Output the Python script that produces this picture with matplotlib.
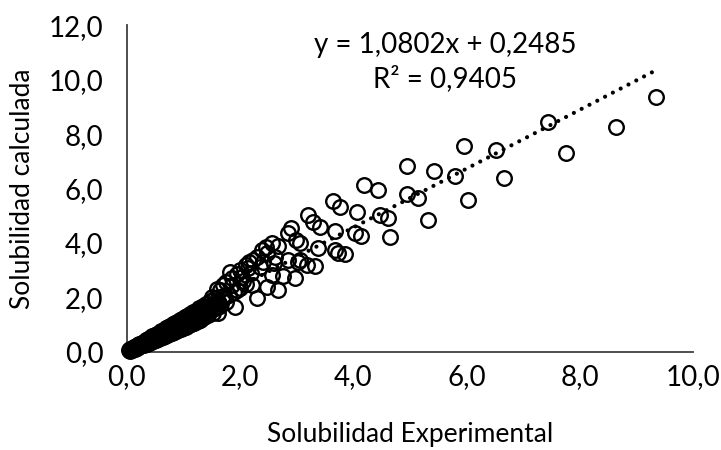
import matplotlib.pyplot as plt

# Solubilidad experimental (x) y calculada (y)
exp_x = [
    # zona densa cerca del origen
    0.04, 0.05, 0.06, 0.08, 0.09, 0.10, 0.11, 0.13, 0.14, 0.16, 0.17, 0.19,
    0.20, 0.22, 0.24, 0.26, 0.27, 0.30, 0.31, 0.33, 0.35, 0.37, 0.39, 0.41,
    0.43, 0.45, 0.47, 0.49, 0.51, 0.53, 0.55, 0.57, 0.59, 0.61, 0.63, 0.65,
    0.67, 0.69, 0.71, 0.73, 0.75, 0.77, 0.79, 0.81, 0.83, 0.85, 0.87, 0.89,
    0.91, 0.93, 0.95, 0.97, 0.99, 1.02, 1.04, 1.07, 1.09, 1.12, 1.14, 1.17,
    1.19, 1.22, 1.25, 1.28, 1.31, 1.34, 1.37, 1.40, 1.44, 1.47, 1.52, 1.56,
    0.15, 0.25, 0.35, 0.45, 0.55, 0.65, 0.75, 0.85, 0.95, 1.05, 1.15, 1.25,
    1.35, 1.45,
    0.12, 0.18, 0.28, 0.38, 0.48, 0.58, 0.68, 0.78, 0.88, 0.98, 1.08, 1.18,
    1.28, 1.38, 1.48, 1.20, 1.30, 1.42, 1.55, 1.10, 1.00,
    0.32, 0.42, 0.52, 0.62, 0.72, 0.82, 0.92, 1.02, 1.12, 1.22, 1.32, 1.42,
    1.52, 1.62, 0.40, 0.60, 0.80, 1.00, 1.20, 1.40, 1.60, 1.70, 1.35, 1.15,
    # zona intermedia
    1.29, 1.61, 1.91, 2.30, 1.94, 2.21, 2.47, 2.67, 2.03, 2.56, 2.76, 2.97,
    1.82, 2.14, 2.35, 2.23, 2.84, 3.02, 2.39, 2.47, 2.61, 2.56, 2.67, 2.90,
    2.84, 2.99, 1.64, 1.50, 1.60, 1.70, 1.75, 1.85, 1.95, 2.00, 2.10, 2.15,
    2.30, 2.45, 1.60, 1.70, 1.80, 1.90, 2.00, 2.10, 1.65, 1.75, 1.55, 1.45,
    1.85, 2.05, 2.20, 2.40, 2.60,
    # zona dispersa
    3.06, 3.37, 3.67, 3.73, 3.85, 3.06, 3.18, 3.32, 3.20, 3.29, 3.42, 3.67,
    4.03, 4.13, 4.65, 3.64, 3.76, 4.06, 4.47, 4.61, 5.32, 4.19, 4.43, 4.95,
    5.14, 6.02, 4.95, 5.42, 5.80, 5.95, 6.52, 6.66, 7.44, 7.76, 8.64, 9.35,
]
calc_y = [
    0.06, 0.10, 0.05, 0.12, 0.08, 0.15, 0.10, 0.18, 0.12, 0.21, 0.15, 0.25,
    0.17, 0.28, 0.21, 0.33, 0.24, 0.38, 0.27, 0.42, 0.30, 0.47, 0.34, 0.52,
    0.37, 0.57, 0.40, 0.61, 0.44, 0.66, 0.48, 0.71, 0.51, 0.76, 0.55, 0.81,
    0.58, 0.86, 0.62, 0.91, 0.65, 0.96, 0.69, 1.01, 0.72, 1.06, 0.76, 1.11,
    0.80, 1.16, 0.84, 1.21, 0.88, 1.27, 0.92, 1.33, 0.97, 1.40, 1.02, 1.46,
    1.07, 1.52, 1.13, 1.60, 1.20, 1.68, 1.27, 1.76, 1.35, 1.86, 1.44, 1.97,
    0.17, 0.28, 0.39, 0.50, 0.60, 0.72, 0.82, 0.93, 1.03, 1.14, 1.25, 1.37,
    1.48, 1.60,
    0.16, 0.20, 0.33, 0.44, 0.56, 0.66, 0.78, 0.88, 1.00, 1.10, 1.22, 1.33,
    1.45, 1.56, 1.70, 1.30, 1.42, 1.50, 1.62, 1.20, 1.05,
    0.30, 0.43, 0.50, 0.64, 0.70, 0.84, 0.92, 1.06, 1.12, 1.28, 1.35, 1.50,
    1.58, 1.80, 0.48, 0.66, 0.92, 1.18, 1.38, 1.62, 1.66, 2.05, 1.55, 1.33,
    1.17, 1.43, 1.65, 1.98, 2.28, 2.46, 2.39, 2.28, 2.75, 2.83, 2.79, 2.72,
    2.94, 3.08, 3.12, 3.38, 3.38, 3.30, 3.74, 3.63, 3.49, 4.00, 3.89, 4.55,
    4.37, 4.11, 2.28, 2.02, 2.30, 2.45, 2.55, 2.70, 2.85, 3.00, 3.20, 3.30,
    3.50, 3.85, 1.90, 2.00, 2.10, 2.20, 2.35, 2.50, 1.70, 1.85, 1.75, 1.55,
    2.45, 2.60, 2.90, 3.30, 3.25,
    4.00, 3.82, 3.74, 3.63, 3.60, 3.38, 3.19, 3.16, 5.03, 4.77, 4.59, 4.44,
    4.37, 4.26, 4.22, 5.54, 5.32, 5.14, 5.03, 4.92, 4.84, 6.13, 5.94, 5.80,
    5.65, 5.58, 6.83, 6.64, 6.46, 7.56, 7.41, 6.39, 8.44, 7.30, 8.26, 9.36,
]

# Linea de tendencia (Excel)
pendiente = 1.0802
intercepto = 0.2485
r2 = 0.9405

x_ticks = [0, 2, 4, 6, 8, 10]
y_ticks = [0, 2, 4, 6, 8, 10, 12]

plt.rcParams['font.family'] = ['Lato', 'DejaVu Sans']

fig = plt.figure(figsize=(7.21, 4.5), dpi=100)
ax = fig.add_axes([0.176, 0.218, 0.785, 0.726])

ax.plot(exp_x, calc_y, 'o', markersize=10.5, markerfacecolor='none',
        markeredgecolor='black', markeredgewidth=1.7, clip_on=False, zorder=3)

x0, x1 = min(exp_x), max(exp_x)
ax.plot([x0, x1], [pendiente * x0 + intercepto, pendiente * x1 + intercepto],
        color='black', linewidth=3.0, linestyle=(0, (0.01, 2.1)),
        dash_capstyle='round', zorder=4)

ax.text(0.562, 0.939, f"y = {pendiente:.4f}x + {intercepto:.4f}".replace('.', ','),
        transform=ax.transAxes, ha='center', va='center', fontsize=20)
ax.text(0.562, 0.838, f"R² = {r2:.4f}".replace('.', ','),
        transform=ax.transAxes, ha='center', va='center', fontsize=20)

ax.set_xlim(0, 10)
ax.set_ylim(0, 12)
ax.set_xticks(x_ticks)
ax.set_yticks(y_ticks)
ax.set_xticklabels([f"{v:.1f}".replace('.', ',') for v in x_ticks])
ax.set_yticklabels([f"{v:.1f}".replace('.', ',') for v in y_ticks])
ax.tick_params(length=0, labelsize=20)
ax.tick_params(axis='x', pad=9)
ax.tick_params(axis='y', pad=17)

for lado in ['top', 'right']:
    ax.spines[lado].set_visible(False)
for lado in ['left', 'bottom']:
    ax.spines[lado].set_color('#404040')
    ax.spines[lado].set_linewidth(1.3)

ax.set_xlabel("Solubilidad Experimental", fontsize=19, labelpad=23)
ax.set_ylabel("Solubilidad calculada", fontsize=19, labelpad=10)

fig.savefig("out.png", dpi=100)
